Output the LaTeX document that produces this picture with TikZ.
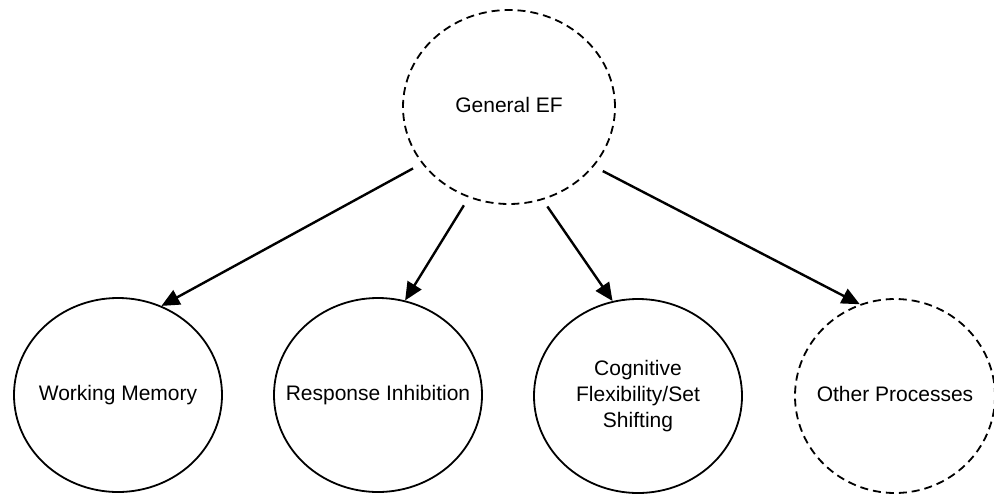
\documentclass[tikz,border=0pt]{standalone}
\usepackage{fontspec}
\setmainfont{Liberation Sans}
\usetikzlibrary{shapes.geometric,arrows.meta}
\newcommand{\zwtext}[1]{\makebox[0pt][c]{\begin{tabular}{@{}c@{}}#1\end{tabular}}}
\begin{document}
\begin{tikzpicture}[x=1pt,y=-1pt,
  bubble/.style={ellipse,draw,line width=1.8pt,inner sep=0pt,
    minimum width=208pt,minimum height=194pt,
    font=\fontsize{21}{26}\selectfont},
  dashbubble/.style={bubble,dash pattern=on 8pt off 5pt},
  arr/.style={line width=2.4pt,-{Triangle[length=18pt,width=16pt]}}]
\useasboundingbox (0,0) rectangle (994,493);
\node[dashbubble,minimum width=212pt] (ef) at (509,107) {\zwtext{General EF}};
\node[bubble] (wm) at (118,395) {\zwtext{Working Memory}};
\node[bubble] (ri) at (378,395) {\zwtext{Response Inhibition}};
\node[bubble] (cf) at (638,396) {\zwtext{Cognitive\\Flexibility/Set\\Shifting}};
\node[dashbubble,minimum width=200pt] (op) at (895,396) {\zwtext{Other Processes}};
\draw[arr,shorten <=10pt] (ef.213) -- (wm.64);
\draw[arr,shorten <=9pt] (ef.246) -- (ri.74);
\draw[arr,shorten <=8pt] (ef.290) -- (cf.105);
\draw[arr,shorten <=10pt] (ef.325) -- (op.111);
\end{tikzpicture}
\end{document}
